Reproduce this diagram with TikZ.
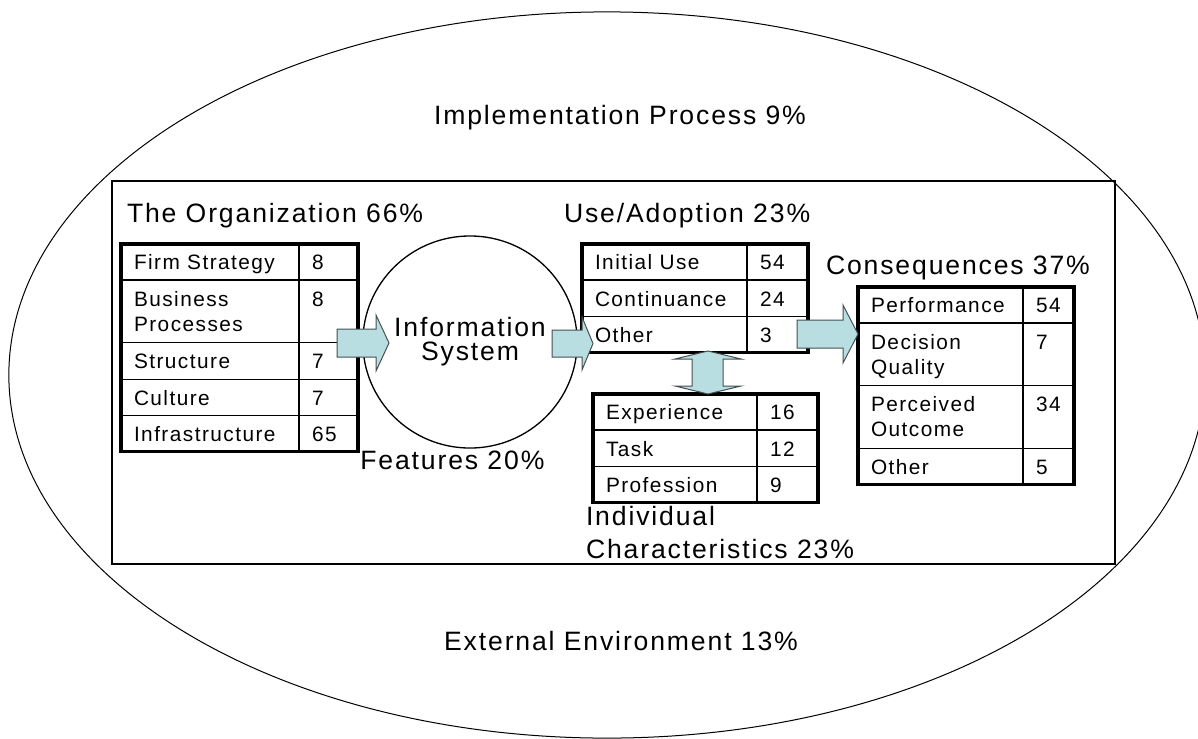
\documentclass[tikz,border=0pt]{standalone}
\usepackage{fontspec}
\setmainfont{Liberation Sans}[LetterSpace=7]
\usetikzlibrary{shapes.geometric, positioning}
\newcommand{\rs}{\rule[-0.24cm]{0pt}{0.88cm}}
\newcommand{\tworow}[2]{\rule{0pt}{0.64cm}#1\newline #2\rule[-0.27cm]{0pt}{0pt}}
\setlength{\tabcolsep}{0.325cm}
\setlength{\arrayrulewidth}{0.033cm}
\definecolor{arrowfill}{RGB}{184,222,226}
\definecolor{arrowline}{RGB}{70,80,80}
\tikzset{
    region/.style={draw=black, inner sep=0pt, outer sep=0pt},
    tablebox/.style={draw=black, line width=0.08cm, inner sep=0pt, outer sep=0pt, anchor=north west, font=\fontsize{14.8}{17.8}\selectfont},
    title/.style={inner sep=0pt, outer sep=0pt, font=\fontsize{18.9}{22.7}\selectfont},
    blockarrow/.style={draw=arrowline, fill=arrowfill, line width=0.025cm, line join=miter}
}
\begin{document}
\begin{tikzpicture}[x=0.025cm, y=-0.025cm]
        \useasboundingbox (0,0) rectangle (1198,738);
        % Environment and Implementation Process
        \node (env) [region, ellipse, minimum width=29.9cm, minimum height=18.15cm, line width=0.025cm] at (607,375) {};
        \node (frame) [region, rectangle, minimum width=25.075cm, minimum height=9.55cm, line width=0.05cm] at (613.5,372.5) {};
        \node (impl) [title, anchor=base] at (620,124) {Implementation Process 9\%};
        \node (ext) [title, anchor=base] at (621,650) {External Environment 13\%};
        
        % The Organization
        \node (orgtitle) [title, anchor=base west] at (127,222) {The Organization 66\%};
        \node (org) [tablebox] at (121,244) {
            \begin{tabular}{p{3.8cm}|p{0.825cm}}
            \rs Firm Strategy & \rs 8 \\ \hline
            \tworow{Business}{Processes} & \rs 8 \\ \hline
            \rs Structure & \rs 7 \\ \hline
            \rs Culture & \rs 7 \\ \hline
            \rs Infrastructure & \rs 65
            \end{tabular}
        };
        
        % Information System
        \node (is) [draw, ellipse, minimum width=4.575cm, minimum height=5.3cm, inner sep=0pt, outer sep=0pt, line width=0.033cm, align=center, font=\fontsize{18.9}{17}\selectfont] at (470,342) {Information\\System};
        \node (feat) [title, below=0.075cm of is, xshift=-0.44cm] {Features 20\%};
        
        % Use/Adoption
        \node (usetitle) [title, anchor=base west] at (564,222) {Use/Adoption 23\%};
        \node (use) [tablebox] at (582,244) {
            \begin{tabular}{p{3.475cm}|p{0.875cm}}
            \rs Initial Use & \rs 54 \\ \hline
            \rs Continuance & \rs 24 \\ \hline
            \rs Other & \rs 3
            \end{tabular}
        };
        
        % Individual Characteristics
        \node (indiv) [tablebox] at (593,394) {
            \begin{tabular}{p{3.45cm}|p{0.875cm}}
            \rs Experience & \rs 16 \\ \hline
            \rs Task & \rs 12 \\ \hline
            \rs Profession & \rs 9
            \end{tabular}
        };
        \node (indtitle) [title, align=left, font=\fontsize{18.9}{23.4}\selectfont, below right=0.1cm and -0.175cm of indiv.south west] {Individual\\Characteristics 23\%};
        
        % Consequences
        \node (constitle) [title, anchor=base west] at (826,274) {Consequences 37\%};
        \node (cons) [tablebox] at (858,287) {
            \begin{tabular}{p{3.475cm}|p{0.625cm}}
            \rs Performance & \rs 54 \\ \hline
            \tworow{Decision}{Quality} & \rs 7 \\ \hline
            \tworow{Perceived}{Outcome} & \rs 34 \\ \hline
            \rs Other & \rs 5
            \end{tabular}
        };
        
        % Block arrows
        \draw[blockarrow] (337,329) -- (376,329) -- (376,315) -- (389,343) -- (376,371) -- (376,357) -- (337,357) -- cycle;
        \draw[blockarrow] (552,330) -- (582,330) -- (582,317) -- (593,343.5) -- (582,370) -- (582,357) -- (552,357) -- cycle;
        \draw[blockarrow] (797,320) -- (843,320) -- (843,305) -- (858,334) -- (843,363) -- (843,348) -- (797,348) -- cycle;
        \draw[blockarrow] (708,351) -- (741,359) -- (723,359) -- (723,386) -- (741,386) -- (708,394) -- (675,386) -- (692,386) -- (692,359) -- (675,359) -- cycle;
    \end{tikzpicture}
\end{document}
